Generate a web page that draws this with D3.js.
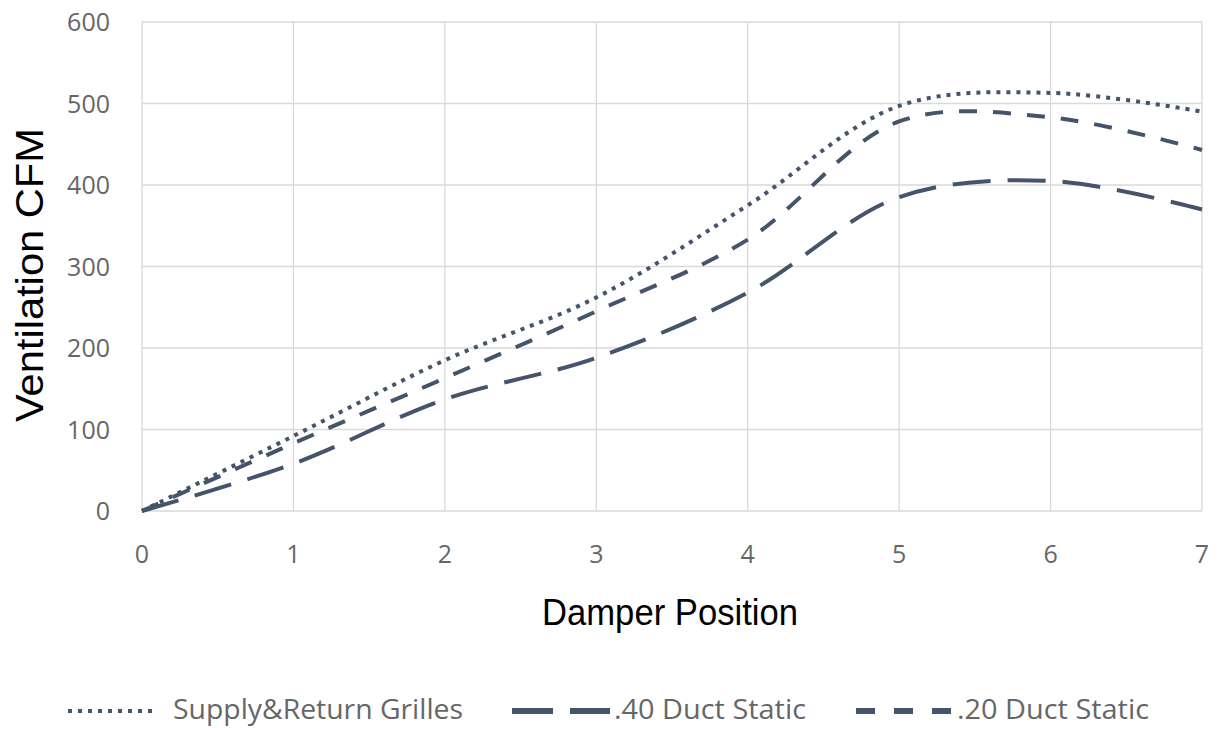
<!DOCTYPE html>
<html>
<head>
<meta charset="utf-8">
<script src="https://cdn.jsdelivr.net/npm/d3@7"></script>
<style>
  body { margin: 0; background: #fff; }
  svg text { font-family: "Open Sans", "Liberation Sans", sans-serif; }
</style>
</head>
<body>
<div id="chart"></div>
<script>
// damper positions and measured CFM for each case
var positions = [0, 1, 2, 3, 4, 5, 6, 7];
var grilles = [0, 92, 185, 262, 375, 497, 513, 490];
var static40 = [0, 58, 137, 188, 268, 385, 405, 370];
var static20 = [0, 83, 163, 245, 333, 478, 483, 443];
var yTicks = [0, 100, 200, 300, 400, 500, 600];

var series = [
    { name: "Supply&Return Grilles", values: grilles, dash: "4 6" },
    { name: ".40 Duct Static", values: static40, dash: "38 17" },
    { name: ".20 Duct Static", values: static20, dash: "18 16" }
];

var width = 1222, height = 731;
var color = "#44546a";

var svg = d3.select("#chart").append("svg")
    .attr("width", width)
    .attr("height", height);

var x = d3.scaleLinear().domain([0, 7]).range([142, 1202]);
var y = d3.scaleLinear().domain([0, 600]).range([511, 22]);

// gridlines
svg.append("g").selectAll("line")
    .data(yTicks)
    .join("line")
    .attr("x1", x(0)).attr("x2", x(7))
    .attr("y1", d => y(d)).attr("y2", d => y(d))
    .style("stroke", "#d9d9d9").style("stroke-width", 1.3);

svg.append("g").selectAll("line")
    .data(positions)
    .join("line")
    .attr("x1", d => x(d)).attr("x2", d => x(d))
    .attr("y1", y(0)).attr("y2", y(600))
    .style("stroke", "#d9d9d9").style("stroke-width", 1.3);

// tick labels
svg.append("g").selectAll("text")
    .data(yTicks)
    .join("text")
    .attr("x", 110)
    .attr("y", d => y(d) + 9)
    .attr("text-anchor", "end")
    .style("font-size", "25px")
    .style("fill", "#666")
    .text(d => d);

svg.append("g").selectAll("text")
    .data(positions)
    .join("text")
    .attr("x", d => x(d))
    .attr("y", 563)
    .attr("text-anchor", "middle")
    .style("font-size", "25px")
    .style("fill", "#666")
    .text(d => d);

// axis titles
svg.append("text")
    .attr("x", 670)
    .attr("y", 625)
    .attr("text-anchor", "middle")
    .attr("textLength", 256)
    .attr("lengthAdjust", "spacingAndGlyphs")
    .style("font-family", "Liberation Sans, Arial, sans-serif")
    .style("font-size", "36px")
    .style("fill", "#000")
    .text("Damper Position");

svg.append("text")
    .attr("transform", "translate(43,275) rotate(-90)")
    .attr("text-anchor", "middle")
    .attr("textLength", 294)
    .attr("lengthAdjust", "spacingAndGlyphs")
    .style("font-family", "Liberation Sans, Arial, sans-serif")
    .style("font-size", "38px")
    .style("fill", "#000")
    .text("Ventilation CFM");

// lines
var line = d3.line()
    .x((d, i) => x(positions[i]))
    .y(d => y(d))
    .curve(d3.curveCatmullRom.alpha(0.5));

svg.append("g").selectAll("path")
    .data(series)
    .join("path")
    .attr("d", d => line(d.values))
    .style("fill", "none")
    .style("stroke", color)
    .style("stroke-width", 4)
    .style("stroke-dasharray", d => d.dash);

// legend
var legendX = [68, 512, 856];
var sampleW = [90, 98, 95];
var textX = [105, 102, 101];
var textW = [290, 192, 192];
var lg = svg.append("g").selectAll("g")
    .data(series)
    .join("g")
    .attr("transform", (d, i) => "translate(" + legendX[i] + ",711)");

lg.append("line")
    .attr("x1", 0).attr("x2", (d, i) => sampleW[i])
    .attr("y1", 0).attr("y2", 0)
    .style("stroke", color)
    .style("stroke-width", (d, i) => i == 0 ? 4 : 6)
    .style("stroke-dasharray", (d, i) => ["4 6", "41 17", "19 19"][i]);

lg.append("text")
    .attr("x", (d, i) => textX[i])
    .attr("y", 8)
    .attr("textLength", (d, i) => textW[i])
    .attr("lengthAdjust", "spacingAndGlyphs")
    .style("font-size", "28px")
    .style("fill", "#666")
    .text(d => d.name);
</script>
</body>
</html>
